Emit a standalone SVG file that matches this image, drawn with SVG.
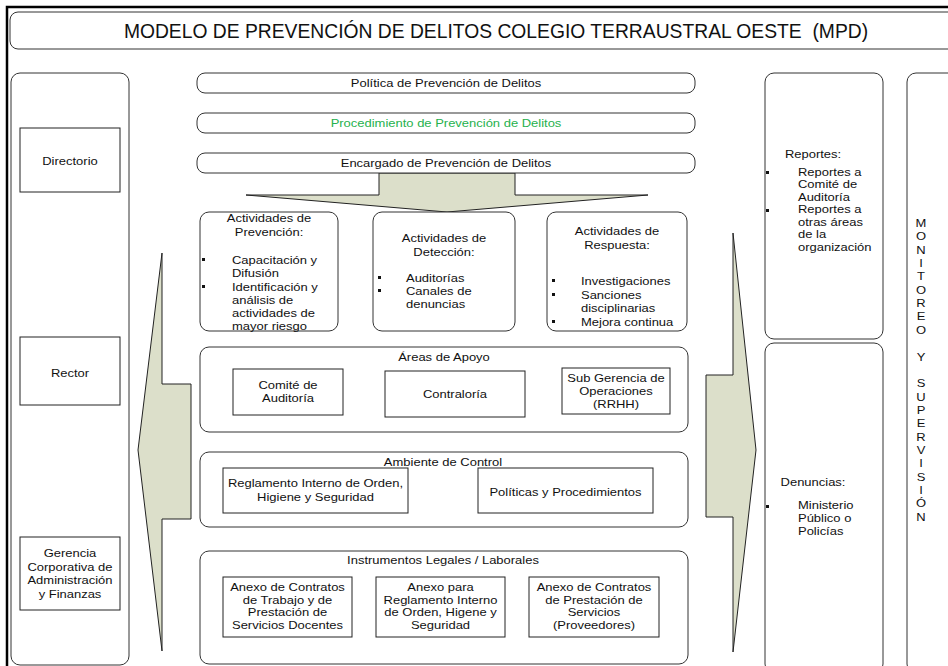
<svg xmlns="http://www.w3.org/2000/svg" width="948" height="666" viewBox="0 0 948 666">
<style>
text{font-family:"Liberation Sans",Arial,sans-serif;font-size:11.2px;fill:#111}
.c{text-anchor:middle}
.box{fill:#fff;stroke:#222;stroke-width:1}
.rbox{fill:#fff;stroke:#333;stroke-width:1}
.arrow{fill:#dcdfca;stroke:#222;stroke-width:1}
.frame{fill:none;stroke:#000;stroke-width:2.5}
.title{font-size:19.3px}
.green{fill:#25b14d}
.bul{fill:#111}
</style>
<rect width="948" height="666" fill="#fff"/>
<path class="frame" d="M7,666 V7 H948"/>
<g id="title">
<rect class="rbox" x="10" y="12" width="950" height="37" rx="8"/>
<text class="c title" x="496" y="38" xml:space="preserve">MODELO DE PREVENCIÓN DE DELITOS COLEGIO TERRAUSTRAL OESTE  (MPD)</text>
</g>
<g id="left-column">
<rect class="rbox" x="11" y="73" width="118" height="592" rx="9"/>
</g>
<g id="directorio">
<rect class="box" x="20" y="128" width="100" height="64"/>
<text class="c" transform="translate(70 164.5) scale(1.16 1)">Directorio</text>
</g>
<g id="rector">
<rect class="box" x="20" y="337" width="100" height="68"/>
<text class="c" transform="translate(70 376.5) scale(1.16 1)">Rector</text>
</g>
<g id="gerencia">
<rect class="box" x="20" y="537" width="100" height="73"/>
<text class="c" transform="translate(70 557) scale(1.16 1)">Gerencia</text>
<text class="c" transform="translate(70 570.5) scale(1.16 1)">Corporativa de</text>
<text class="c" transform="translate(70 584) scale(1.16 1)">Administración</text>
<text class="c" transform="translate(70 597.5) scale(1.16 1)">y Finanzas</text>
</g>
<g id="connectors">
<polygon class="arrow" points="162,253 162,384 191,384 191,519 162,519 162,651 138,450"/>
<polygon class="arrow" points="733,233 733,375 706,375 706,517 733,517 733,652 756,450"/>
<polygon class="arrow" points="379,173 515,173 515,195 648,195 447,212 246,195 379,195"/>
</g>
<g id="politica">
<rect class="rbox" x="197" y="73" width="498" height="20" rx="8"/>
<text class="c" transform="translate(446 87) scale(1.16 1)">Política de Prevención de Delitos</text>
</g>
<g id="procedimiento">
<rect class="rbox" x="197" y="113" width="498" height="20" rx="8"/>
<text class="c green" transform="translate(446 127) scale(1.16 1)">Procedimiento de Prevención de Delitos</text>
</g>
<g id="encargado">
<rect class="rbox" x="197" y="153" width="498" height="20" rx="8"/>
<text class="c" transform="translate(446 167) scale(1.16 1)">Encargado de Prevención de Delitos</text>
</g>
<g id="prevencion">
<rect class="rbox" x="200" y="212" width="138" height="119" rx="9"/>
<text class="c" transform="translate(269 222) scale(1.16 1)">Actividades de</text>
<text class="c" transform="translate(269 236) scale(1.16 1)">Prevención:</text>
<rect class="bul" x="202" y="258" width="3" height="3"/>
<rect class="bul" x="202" y="285" width="3" height="3"/>
<text transform="translate(232 264) scale(1.16 1)">Capacitación y</text>
<text transform="translate(232 277) scale(1.16 1)">Difusión</text>
<text transform="translate(232 290.5) scale(1.16 1)">Identificación y</text>
<text transform="translate(232 304) scale(1.16 1)">análisis de</text>
<text transform="translate(232 317) scale(1.16 1)">actividades de</text>
<text transform="translate(232 329.5) scale(1.16 1)">mayor riesgo</text>
</g>
<g id="deteccion">
<rect class="rbox" x="373" y="212" width="142" height="119" rx="9"/>
<text class="c" transform="translate(444 242) scale(1.16 1)">Actividades de</text>
<text class="c" transform="translate(444 256) scale(1.16 1)">Detección:</text>
<rect class="bul" x="378" y="276" width="3" height="3"/>
<rect class="bul" x="378" y="289" width="3" height="3"/>
<text transform="translate(406 282) scale(1.16 1)">Auditorías</text>
<text transform="translate(406 295) scale(1.16 1)">Canales de</text>
<text transform="translate(406 308) scale(1.16 1)">denuncias</text>
</g>
<g id="respuesta">
<rect class="rbox" x="547" y="212" width="140" height="119" rx="9"/>
<text class="c" transform="translate(617 235) scale(1.16 1)">Actividades de</text>
<text class="c" transform="translate(617 249) scale(1.16 1)">Respuesta:</text>
<rect class="bul" x="552" y="279" width="3" height="3"/>
<rect class="bul" x="552" y="293" width="3" height="3"/>
<rect class="bul" x="552" y="320" width="3" height="3"/>
<text transform="translate(581 285) scale(1.16 1)">Investigaciones</text>
<text transform="translate(581 299) scale(1.16 1)">Sanciones</text>
<text transform="translate(581 312) scale(1.16 1)">disciplinarias</text>
<text transform="translate(581 326) scale(1.16 1)">Mejora continua</text>
</g>
<g id="areas-apoyo">
<rect class="rbox" x="200" y="347" width="488" height="85" rx="9"/>
<text class="c" transform="translate(444 361) scale(1.16 1)">Áreas de Apoyo</text>
</g>
<g id="comite">
<rect class="box" x="233" y="369" width="110" height="46"/>
<text class="c" transform="translate(288 389) scale(1.16 1)">Comité de</text>
<text class="c" transform="translate(288 402) scale(1.16 1)">Auditoría</text>
</g>
<g id="contraloria">
<rect class="box" x="385" y="371" width="140" height="46"/>
<text class="c" transform="translate(455 398) scale(1.16 1)">Contraloría</text>
</g>
<g id="subgerencia">
<rect class="box" x="562" y="368" width="108" height="46"/>
<text class="c" transform="translate(616 382) scale(1.16 1)">Sub Gerencia de</text>
<text class="c" transform="translate(616 395) scale(1.16 1)">Operaciones</text>
<text class="c" transform="translate(616 408) scale(1.16 1)">(RRHH)</text>
</g>
<g id="ambiente">
<rect class="rbox" x="200" y="452" width="488" height="75" rx="9"/>
<text class="c" transform="translate(443 466) scale(1.16 1)">Ambiente de Control</text>
</g>
<g id="reglamento">
<rect class="box" x="223" y="468" width="185" height="45"/>
<text class="c" transform="translate(315.5 487) scale(1.16 1)">Reglamento Interno de Orden,</text>
<text class="c" transform="translate(315.5 501) scale(1.16 1)">Higiene y Seguridad</text>
</g>
<g id="politicas">
<rect class="box" x="478" y="468" width="175" height="45"/>
<text class="c" transform="translate(565.5 496) scale(1.16 1)">Políticas y Procedimientos</text>
</g>
<g id="instrumentos">
<rect class="rbox" x="200" y="551" width="488" height="113" rx="9"/>
<text class="c" transform="translate(443 564) scale(1.16 1)">Instrumentos Legales / Laborales</text>
</g>
<g id="anexo-trabajo">
<rect class="box" x="223" y="577" width="129" height="60"/>
<text class="c" transform="translate(287.5 591) scale(1.16 1)">Anexo de Contratos</text>
<text class="c" transform="translate(287.5 603.5) scale(1.16 1)">de Trabajo y de</text>
<text class="c" transform="translate(287.5 616) scale(1.16 1)">Prestación de</text>
<text class="c" transform="translate(287.5 628.5) scale(1.16 1)">Servicios Docentes</text>
</g>
<g id="anexo-reglamento">
<rect class="box" x="376" y="577" width="129" height="60"/>
<text class="c" transform="translate(440.5 591) scale(1.16 1)">Anexo para</text>
<text class="c" transform="translate(440.5 603.5) scale(1.16 1)">Reglamento Interno</text>
<text class="c" transform="translate(440.5 616) scale(1.16 1)">de Orden, Higene y</text>
<text class="c" transform="translate(440.5 628.5) scale(1.16 1)">Seguridad</text>
</g>
<g id="anexo-proveedores">
<rect class="box" x="529" y="577" width="130" height="60"/>
<text class="c" transform="translate(594 591) scale(1.16 1)">Anexo de Contratos</text>
<text class="c" transform="translate(594 603.5) scale(1.16 1)">de Prestación de</text>
<text class="c" transform="translate(594 616) scale(1.16 1)">Servicios</text>
<text class="c" transform="translate(594 628.5) scale(1.16 1)">(Proveedores)</text>
</g>
<g id="reportes">
<rect class="rbox" x="765" y="73" width="118" height="266" rx="9"/>
<text class="c" transform="translate(813 157.5) scale(1.16 1)">Reportes:</text>
<rect class="bul" x="766" y="171" width="3" height="3"/>
<rect class="bul" x="766" y="209" width="3" height="3"/>
<text transform="translate(798 175.5) scale(1.16 1)">Reportes a</text>
<text transform="translate(798 188) scale(1.16 1)">Comité de</text>
<text transform="translate(798 200.5) scale(1.16 1)">Auditoría</text>
<text transform="translate(798 213) scale(1.16 1)">Reportes a</text>
<text transform="translate(798 225.5) scale(1.16 1)">otras áreas</text>
<text transform="translate(798 238) scale(1.16 1)">de la</text>
<text transform="translate(798 250.5) scale(1.16 1)">organización</text>
</g>
<g id="denuncias">
<rect class="rbox" x="765" y="343" width="118" height="330" rx="9"/>
<text class="c" transform="translate(813 486) scale(1.16 1)">Denuncias:</text>
<rect class="bul" x="766" y="505" width="3" height="3"/>
<text transform="translate(798 509) scale(1.16 1)">Ministerio</text>
<text transform="translate(798 522) scale(1.16 1)">Público o</text>
<text transform="translate(798 535) scale(1.16 1)">Policías</text>
</g>
<g id="monitoreo">
<rect class="rbox" x="907" y="73" width="60" height="600" rx="9"/>
<text class="c" transform="translate(921 227) scale(1.16 1)">M</text>
<text class="c" transform="translate(921 240) scale(1.16 1)">O</text>
<text class="c" transform="translate(921 253.5) scale(1.16 1)">N</text>
<text class="c" transform="translate(921 266.5) scale(1.16 1)">I</text>
<text class="c" transform="translate(921 280) scale(1.16 1)">T</text>
<text class="c" transform="translate(921 293.5) scale(1.16 1)">O</text>
<text class="c" transform="translate(921 306.5) scale(1.16 1)">R</text>
<text class="c" transform="translate(921 320) scale(1.16 1)">E</text>
<text class="c" transform="translate(921 333.5) scale(1.16 1)">O</text>
<text class="c" transform="translate(921 360.5) scale(1.16 1)">Y</text>
<text class="c" transform="translate(921 387) scale(1.16 1)">S</text>
<text class="c" transform="translate(921 400.5) scale(1.16 1)">U</text>
<text class="c" transform="translate(921 413.5) scale(1.16 1)">P</text>
<text class="c" transform="translate(921 427) scale(1.16 1)">E</text>
<text class="c" transform="translate(921 440.5) scale(1.16 1)">R</text>
<text class="c" transform="translate(921 453.5) scale(1.16 1)">V</text>
<text class="c" transform="translate(921 467) scale(1.16 1)">I</text>
<text class="c" transform="translate(921 480.5) scale(1.16 1)">S</text>
<text class="c" transform="translate(921 493.5) scale(1.16 1)">I</text>
<text class="c" transform="translate(921 507) scale(1.16 1)">Ó</text>
<text class="c" transform="translate(921 520.5) scale(1.16 1)">N</text>
</g>
</svg>
